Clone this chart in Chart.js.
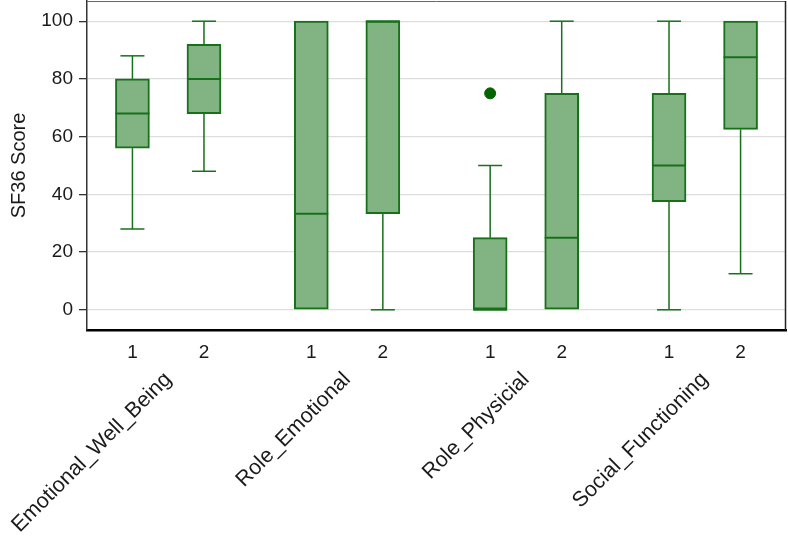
<!DOCTYPE html>
<html>
<head>
<meta charset="utf-8">
<script src="https://cdn.jsdelivr.net/npm/chart.js@4.4.0/dist/chart.umd.min.js"></script>
<style>
  html, body { margin: 0; padding: 0; background: #fff; }
  #wrap { width: 788px; height: 542px; }
</style>
</head>
<body>
<div id="wrap"><canvas id="grafico" width="788" height="542"></canvas></div>
<script>
// groups and arms
const grupos = ["Emotional_Well_Being", "Role_Emotional", "Role_Physicial", "Social_Functioning"];
const bracos = ["1", "2"];
// position of each box on the x axis (1 and 2 inside each group)
const posicoes = [0, 1, 2.5, 3.5, 5, 6, 7.5, 8.5];
const centrosGrupo = [0.5, 3, 5.5, 8];

// box plot stats, one entry per box
const minimo  = [28, 48, 0, 0, 0, 0, 0, 12.5];
const q1      = [56, 68, 0, 33.3, 0, 0, 37.5, 62.5];
const mediana = [68, 80, 33.3, 100, 0, 25, 50, 87.5];
const q3      = [80, 92, 100, 100, 25, 75, 75, 100];
const maximo  = [88, 100, 100, 100, 50, 100, 100, 100];

// outliers
const outlierPos = [5];
const outlierVal = [75];

const yTicks = [0, 20, 40, 60, 80, 100];

const verde = "#17701a";
const preenchimento = "#82b382";
const fonte = "'Liberation Sans', Arial, sans-serif";

const whiskers = {
  id: "whiskers",
  beforeDatasetsDraw(chart) {
    const { ctx } = chart;
    const x = chart.scales.x, y = chart.scales.y;
    ctx.save();
    ctx.strokeStyle = verde;
    ctx.lineWidth = 1.5;
    posicoes.forEach((p, i) => {
      const px = x.getPixelForValue(p);
      const seg = (a, b) => {
        if (a === b) return;
        ctx.beginPath();
        ctx.moveTo(px, y.getPixelForValue(a));
        ctx.lineTo(px, y.getPixelForValue(b));
        ctx.stroke();
        ctx.beginPath();
        ctx.moveTo(px - 12, y.getPixelForValue(b));
        ctx.lineTo(px + 12, y.getPixelForValue(b));
        ctx.stroke();
      };
      seg(q3[i], maximo[i]);
      seg(q1[i], minimo[i]);
    });
    ctx.restore();
  },
  afterDatasetsDraw(chart) {
    const { ctx } = chart;
    const x = chart.scales.x, y = chart.scales.y;
    ctx.save();
    ctx.strokeStyle = verde;
    ctx.lineWidth = 2;
    posicoes.forEach((p, i) => {
      const px = x.getPixelForValue(p);
      const py = y.getPixelForValue(mediana[i]);
      ctx.beginPath();
      ctx.moveTo(px - 17, py);
      ctx.lineTo(px + 17, py);
      ctx.stroke();
    });
    // frame top and right
    const a = chart.chartArea;
    ctx.strokeStyle = "#666";
    ctx.lineWidth = 1;
    ctx.beginPath();
    ctx.moveTo(a.left, a.top + 0.5);
    ctx.lineTo(a.right, a.top + 0.5);
    ctx.stroke();
    ctx.strokeStyle = "#222";
    ctx.lineWidth = 1.5;
    ctx.beginPath();
    ctx.moveTo(a.right - 0.5, a.top);
    ctx.lineTo(a.right - 0.5, a.bottom);
    ctx.stroke();
    ctx.restore();
  }
};

const semPadding = s => { s.paddingLeft = 0; s.paddingRight = 0; s.paddingTop = 0; s.paddingBottom = 0; };

new Chart(document.getElementById("grafico"), {
  type: "bar",
  data: {
    datasets: [{
      data: posicoes.map((p, i) => ({ x: p, y: [q1[i], q3[i]] })),
      backgroundColor: preenchimento,
      borderColor: verde,
      borderWidth: 2,
      borderSkipped: false,
      barThickness: 34
    }, {
      type: "scatter",
      data: outlierPos.map((p, i) => ({ x: p, y: outlierVal[i] })),
      backgroundColor: "#006400",
      borderColor: "#006400",
      pointRadius: 5.5,
      xAxisID: "x"
    }]
  },
  options: {
    responsive: false,
    animation: false,
    layout: { autoPadding: false, padding: { top: 1, right: 2, left: 0, bottom: 0 } },
    plugins: { legend: { display: false }, tooltip: { enabled: false } },
    scales: {
      x: {
        type: "linear",
        position: "bottom",
        weight: 1,
        offset: false,
        min: -0.635,
        max: 9.135,
        grid: { display: false, drawTicks: false },
        border: { display: true, color: "#000", width: 2.5 },
        afterBuildTicks: s => { s.ticks = posicoes.map(v => ({ value: v })); },
        afterFit: s => { s.height = 37; semPadding(s); },
        ticks: {
          autoSkip: false,
          maxRotation: 0,
          minRotation: 0,
          padding: 11,
          color: "#1a1a1a",
          font: { family: fonte, size: 19 },
          callback: (v) => bracos[posicoes.indexOf(v) % 2]
        }
      },
      grupos: {
        type: "linear",
        position: "bottom",
        weight: 2,
        offset: false,
        min: -0.635,
        max: 9.135,
        grid: { display: false, drawTicks: false },
        border: { display: false },
        afterBuildTicks: s => { s.ticks = centrosGrupo.map(v => ({ value: v })); },
        afterFit: s => { s.height = 175; semPadding(s); },
        ticks: {
          autoSkip: false,
          maxRotation: 45,
          minRotation: 45,
          padding: 0,
          color: "#1a1a1a",
          font: { family: fonte, size: 21.5 },
          callback: (v) => grupos[centrosGrupo.indexOf(v)]
        }
      },
      y: {
        min: -7,
        max: 107,
        afterBuildTicks: s => { s.ticks = yTicks.map(v => ({ value: v })); },
        afterFit: s => { s.width = 87; semPadding(s); },
        grid: { color: "#dddddd", lineWidth: 1.3, tickColor: "#333", tickLength: 8 },
        border: { display: true, color: "#333", width: 1.5 },
        ticks: {
          padding: 6,
          color: "#1a1a1a",
          font: { family: fonte, size: 19 }
        },
        title: {
          display: true,
          text: "SF36 Score",
          color: "#1a1a1a",
          font: { family: fonte, size: 20 },
          padding: { top: 7, bottom: 0 }
        }
      }
    }
  },
  plugins: [whiskers]
});
</script>
</body>
</html>
